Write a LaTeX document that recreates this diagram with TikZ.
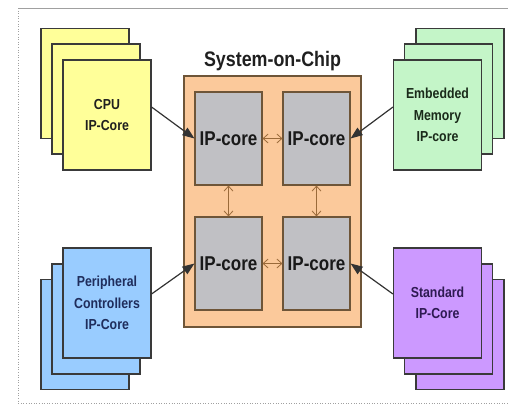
\documentclass[tikz,border=0pt]{standalone}
\usepackage{fontspec}
\setmainfont{Liberation Sans}[FakeStretch=0.85]
\usetikzlibrary{arrows.meta}
\definecolor{yellowfill}{HTML}{FFFF99}
\definecolor{greenfill}{HTML}{C4F5C8}
\definecolor{bluefill}{HTML}{99CCFF}
\definecolor{purplefill}{HTML}{CC99FF}
\definecolor{socfill}{HTML}{FBC99B}
\definecolor{corefill}{HTML}{C0C0C4}
\definecolor{cardline}{HTML}{3A3A3A}
\definecolor{socline}{HTML}{6E5538}
\definecolor{linkcol}{HTML}{9A6A3A}
\definecolor{bluetext}{HTML}{1F2D5C}
\definecolor{purpletext}{HTML}{2E1A52}
\definecolor{greentext}{HTML}{1A2A1A}
\definecolor{frame}{HTML}{A0A0A0}
\tikzset{
  card/.style={draw=cardline, line width=1.1pt, minimum width=88pt, minimum height=110pt,
    inner sep=0pt, align=center, font=\fontsize{14.5}{21.5}\selectfont\bfseries},
  core/.style={draw=socline, fill=corefill, line width=1.1pt, minimum width=67pt,
    minimum height=93pt, inner sep=0pt, font=\fontsize{20}{24}\selectfont\bfseries, text=black!90},
  socbox/.style={draw=socline, fill=socfill, line width=1.1pt, minimum width=177pt,
    minimum height=251pt, inner sep=0pt},
  link/.style={draw=linkcol, line width=0.8pt,
    {Straight Barb[length=5pt,width=9pt]}-{Straight Barb[length=5pt,width=9pt]}},
  feed/.style={draw=black!80, line width=1.2pt, -{Triangle[length=12pt,width=9pt]}}
}
\begin{document}
\begin{tikzpicture}[x=1pt,y=-1pt]
\useasboundingbox (0,0) rectangle (508,405);
% frame
\draw[frame, line width=0.8pt] (18,8) -- (508,8);
\draw[frame, line width=0.6pt, dotted] (18,8) -- (18,403) -- (508,403);

% SoC
\node[socbox] (soc) at (272.5,201.5) {};
\node[font=\fontsize{21}{24}\selectfont\bfseries, text=black!88] (title) at (272.5,61) {System-on-Chip};
\node[core] (tl) at (228.5,138.5) {IP-core};
\node[core] (tr) at (316.5,138.5) {IP-core};
\node[core] (bl) at (228.5,263.5) {IP-core};
\node[core] (br) at (316.5,263.5) {IP-core};
\draw[link] (tl) -- (tr);
\draw[link] (bl) -- (br);
\draw[link] (tl) -- (bl);
\draw[link] (tr) -- (br);

% CPU stack
\node[card, fill=yellowfill] (cpua) at (85,83.5) {};
\node[card, fill=yellowfill] (cpub) at (96,99) {};
\node[card, fill=yellowfill, text=black!88] (cpu) at (107,115) {CPU\\IP-Core};

% Embedded memory stack
\node[card, fill=greenfill] (emba) at (460,83.5) {};
\node[card, fill=greenfill] (embb) at (448.5,99) {};
\node[card, fill=greenfill, text=greentext] (emb) at (437.5,115) {Embedded\\Memory\\IP-core};

% Peripheral stack
\node[card, fill=bluefill] (pera) at (85,334.5) {};
\node[card, fill=bluefill] (perb) at (96,319) {};
\node[card, fill=bluefill, text=bluetext] (per) at (107,303) {Peripheral\\Controllers\\IP-Core};

% Standard stack
\node[card, fill=purplefill] (stda) at (460,334.5) {};
\node[card, fill=purplefill] (stdb) at (448.5,319) {};
\node[card, fill=purplefill, text=purpletext] (std) at (437.5,303) {Standard\\IP-Core};

% feeds
\draw[feed] ([yshift=8pt]cpu.east) -- (tl.west);
\draw[feed] ([yshift=8pt]emb.west) -- (tr.east);
\draw[feed] ([yshift=9pt]per.east) -- (bl.west);
\draw[feed] ([yshift=9pt]std.west) -- (br.east);
\end{tikzpicture}
\end{document}
